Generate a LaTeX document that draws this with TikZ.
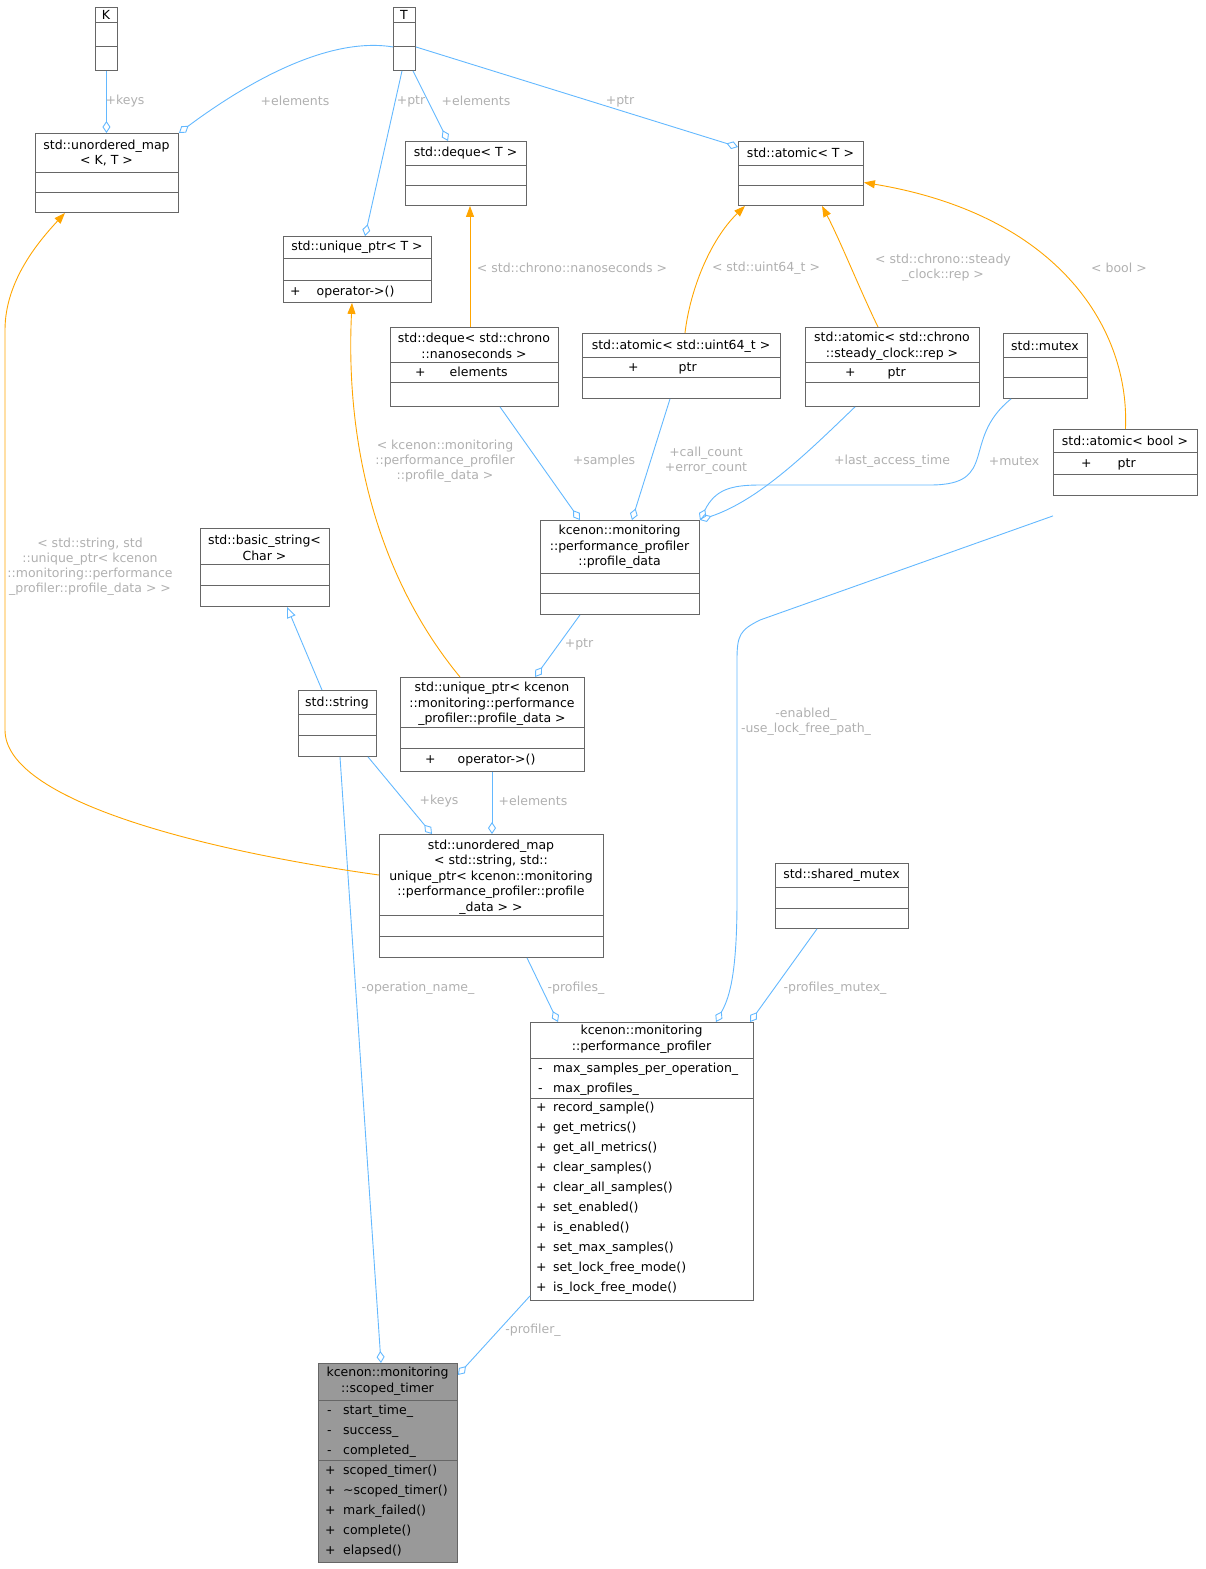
\documentclass[tikz,border=0pt]{standalone}
\usepackage{fontspec}
\setmainfont{DejaVu Sans}
\usetikzlibrary{arrows.meta}
\definecolor{edge}{HTML}{63B8FF}
\definecolor{tmpl}{HTML}{FFA500}
\definecolor{lbl}{HTML}{B0B0B0}
\definecolor{bord}{HTML}{666666}
\tikzset{
 box/.style={draw=bord, line width=0.9pt, inner sep=0pt, anchor=north west},
 div/.style={draw=bord, line width=0.9pt},
 ttl/.style={align=center, font=\fontsize{12.5}{15.5}\selectfont, inner sep=0pt},
 mem/.style={anchor=base west, font=\fontsize{12.5}{15}\selectfont, inner sep=0pt},
 lab/.style={text=lbl, align=center, font=\fontsize{12.5}{15}\selectfont, inner sep=0pt},
 agg/.style={draw=edge, line width=0.9pt, -{Diamond[open,length=12pt,width=8pt]}},
 tpl/.style={draw=tmpl, line width=0.9pt, -{Triangle[length=11pt,width=8pt]}, fill=none},
 inh/.style={draw=edge, line width=0.9pt, -{Triangle[open,length=11pt,width=9pt]}},
}
% \cls[fill]{id}{x1}{y1}{x2}{y2}{d1}{d2}{title y}{title}
\newcommand\cls[9][white]{%
 \node[box, fill=#1, minimum width={(#4-#3)*1pt}, minimum height={(#6-#5)*1pt}] (#2) at (#3,#5) {};
 \draw[div] (#3,#7) -- (#4,#7);
 \draw[div] (#3,#8) -- (#4,#8);
 \node[ttl] (#2-t) at ({(#3+#4)/2},#9) {\clstitle};}
\newcommand\clstitle{}
\newcommand\mems[3]{% x, first baseline y, list
 \foreach \t [count=\i] in {#3} \node[mem] at (#1,{#2+20*(\i-1)}) {\t};}
\begin{document}
\begin{tikzpicture}[x=1pt,y=-1pt]
\useasboundingbox (0,0) rectangle (1205,1569);
\renewcommand\clstitle{K}\cls{K}{95}{117}{7}{70}{22}{46}{15}
\renewcommand\clstitle{T}\cls{T}{393}{415}{7}{70}{22}{46}{15}
\renewcommand\clstitle{std::unordered\_map\\< K, T >}\cls{umK}{35}{178}{133}{212}{172}{192}{153}
\renewcommand\clstitle{std::deque< T >}\cls{dqT}{405}{526}{141}{205}{165}{185}{153}
\renewcommand\clstitle{std::atomic< T >}\cls{atT}{738}{863}{141}{205}{165}{185}{153}
\renewcommand\clstitle{std::unique\_ptr< T >}\cls{upT}{283}{431}{236}{302}{258}{280}{247}
\mems{290}{295}{+\hspace{16pt}operator->()}
\renewcommand\clstitle{std::deque< std::chrono\\::nanoseconds >}\cls{dqN}{390}{558}{327}{406}{362}{382}{346}
\mems{415}{376}{+\hspace{24pt}elements}
\renewcommand\clstitle{std::atomic< std::uint64\_t >}\cls{atU}{582}{780}{333}{398}{357}{377}{346}
\mems{628}{371}{+\hspace{40pt}ptr}
\renewcommand\clstitle{std::atomic< std::chrono\\::steady\_clock::rep >}\cls{atS}{805}{979}{327}{406}{362}{382}{346}
\mems{845}{376}{+\hspace{32pt}ptr}
\renewcommand\clstitle{std::mutex}\cls{mtx}{1003}{1087}{333}{398}{357}{377}{346}
\renewcommand\clstitle{std::atomic< bool >}\cls{atB}{1053}{1197}{429}{495}{452}{474}{441}
\mems{1081}{467}{+\hspace{26pt}ptr}
\renewcommand\clstitle{std::basic\_string<\\Char >}\cls{bstr}{200}{329}{528}{606}{564}{585}{548}
\renewcommand\clstitle{kcenon::monitoring\\::performance\_profiler\\::profile\_data}\cls{pd}{540}{699}{520}{614}{573}{593}{547}
\renewcommand\clstitle{std::string}\cls{str}{298}{376}{690}{756}{714}{735}{703}
\renewcommand\clstitle{std::unique\_ptr< kcenon\\::monitoring::performance\\\_profiler::profile\_data >}\cls{uppd}{400}{584}{677}{771}{727}{748}{704}
\mems{425}{763}{+\hspace{22pt}operator->()}
\renewcommand\clstitle{std::unordered\_map\\< std::string, std::\\unique\_ptr< kcenon::monitoring\\::performance\_profiler::profile\\\_data > >}\cls{umS}{379}{603}{834}{957}{915}{936}{877}
\renewcommand\clstitle{std::shared\_mutex}\cls{smtx}{775}{908}{863}{928}{887}{908}{875}
\renewcommand\clstitle{kcenon::monitoring\\::performance\_profiler}\cls{prof}{530}{753}{1022}{1300}{1058}{1098}{1039}
\mems{538}{1072}{-,-}
\mems{553}{1072}{max\_samples\_per\_operation\_,max\_profiles\_}
\mems{536}{1111}{+,+,+,+,+,+,+,+,+,+}
\mems{553}{1111}{record\_sample(),get\_metrics(),get\_all\_metrics(),clear\_samples(),clear\_all\_samples(),set\_enabled(),is\_enabled(),set\_max\_samples(),set\_lock\_free\_mode(),is\_lock\_free\_mode()}
\renewcommand\clstitle{kcenon::monitoring\\::scoped\_timer}\cls[black!40]{st}{318}{457}{1363}{1562}{1400}{1460}{1381}
\mems{327}{1414}{-,-,-}
\mems{343}{1414}{start\_time\_,success\_,completed\_}
\mems{325}{1474}{+,+,+,+,+}
\mems{343}{1474}{scoped\_timer(),\textasciitilde scoped\_timer(),mark\_failed(),complete(),elapsed()}

% aggregation edges
\draw[agg] (K.south) -- (K.south |- umK.north);
\node[lab] (l1) at (125,101) {+keys};
\draw[agg] ([yshift=-8pt]T.west) .. controls (320,35) and (230,95) .. (umK.north east);
\node[lab] (l2) at (295,101) {+elements};
\draw[agg] ([xshift=9pt]T.south west) -- ([xshift=82pt]upT.north west);
\node[lab] (l3) at (411,101) {+ptr};
\draw[agg] ([xshift=20pt]T.south west) -- ([xshift=43pt]dqT.north west);
\node[lab] (l4) at (476,101) {+elements};
\draw[agg] ([yshift=-8pt]T.east) -- ([yshift=-6pt]atT.north west);
\node[lab] (l5) at (620,101) {+ptr};
\draw[agg] ([xshift=110pt]dqN.south west) -- ([xshift=40pt]pd.north west);
\node[lab] (l6) at (604,461) {+samples};
\draw[agg] ([xshift=88pt]atU.south west) -- ([xshift=92pt]pd.north west);
\node[lab] (l7) at (706,461) {+call\_count\\+error\_count};
\draw[agg] ([xshift=50pt]atS.south west) .. controls (810,450) and (760,500) .. (pd.north east);
\node[lab] (l8) at (892,461) {+last\_access\_time};
\draw[agg] ([xshift=8pt]mtx.south west) .. controls (960,440) and (1000,485) .. (930,485) -- (760,485) .. controls (730,485) and (715,490) .. (pd.north east);
\node[lab] (l9) at (1014,461) {+mutex};
\draw[agg] ([xshift=40pt]pd.south west) -- ([xshift=135pt]uppd.north west);
\node[lab] (l10) at (579,644) {+ptr};
\draw[agg] ([xshift=70pt]str.south west) -- ([xshift=53pt]umS.north west);
\node[lab] (l11) at (439,801) {+keys};
\draw[agg] ([xshift=92pt]uppd.south west) -- ([xshift=113pt]umS.north west);
\node[lab] (l12) at (533,801) {+elements};
\draw[agg] ([xshift=148pt]umS.south west) -- ([xshift=28pt]prof.north west);
\node[lab] (l13) at (576,988) {-profiles\_};
\draw[agg] ([xshift=42pt]smtx.south west) -- ([xshift=220pt]prof.north west);
\node[lab] (l14) at (835,988) {-profiles\_mutex\_};
\draw[agg] ([yshift=-20pt]atB.south west) -- (760,620) .. controls (740,630) and (737,635) .. (737,660) -- (737,900) .. controls (737,980) and (728,1000) .. ([xshift=186pt]prof.north west);
\node[lab] (l15) at (806,722) {-enabled\_\\-use\_lock\_free\_path\_};
\draw[agg] ([xshift=42pt]str.south west) -- ([xshift=63pt]st.north west);
\node[lab] (l16) at (418,988) {-operation\_name\_};
\draw[agg] ([yshift=5pt]prof.south west) -- ([yshift=-12pt]st.north east);
\node[lab] (l17) at (533,1330) {-profiler\_};
% inheritance
\draw[inh] ([xshift=24pt]str.north west) -- ([xshift=87pt]bstr.south west);
% template instantiation
\draw[tpl] ([xshift=80pt]dqN.north west) -- ([xshift=65pt]dqT.south west);
\node[lab] (t1) at (572,268) {< std::chrono::nanoseconds >};
\draw[tpl] ([xshift=103pt]atU.north west) .. controls (690,290) and (710,240) .. ([xshift=7pt]atT.south west);
\node[lab] (t2) at (766,268) {< std::uint64\_t >};
\draw[tpl] ([xshift=73pt]atS.north west) .. controls (860,290) and (840,240) .. ([xshift=84pt]atT.south west);
\node[lab] (t3) at (943,268) {< std::chrono::steady\\\_clock::rep >};
\draw[tpl] (atB.north) .. controls (1130,330) and (1060,215) .. ([yshift=-9pt]atT.east);
\node[lab] (t4) at (1119,268) {< bool >};
\draw[tpl] ([xshift=60pt]uppd.north west) .. controls (380,580) and (345,450) .. ([xshift=69pt]upT.south west);
\node[lab] (t5) at (445,461) {< kcenon::monitoring\\::performance\_profiler\\::profile\_data >};
\draw[tpl] ([yshift=-41pt]umS.north west) .. controls (200,850) and (5,800) .. (5,730) -- (5,330) .. controls (5,280) and (40,240) .. ([xshift=30pt]umK.south west);
\node[lab] (t6) at (90,567) {< std::string, std\\::unique\_ptr< kcenon\\::monitoring::performance\\\_profiler::profile\_data > >};
\end{tikzpicture}
\end{document}
